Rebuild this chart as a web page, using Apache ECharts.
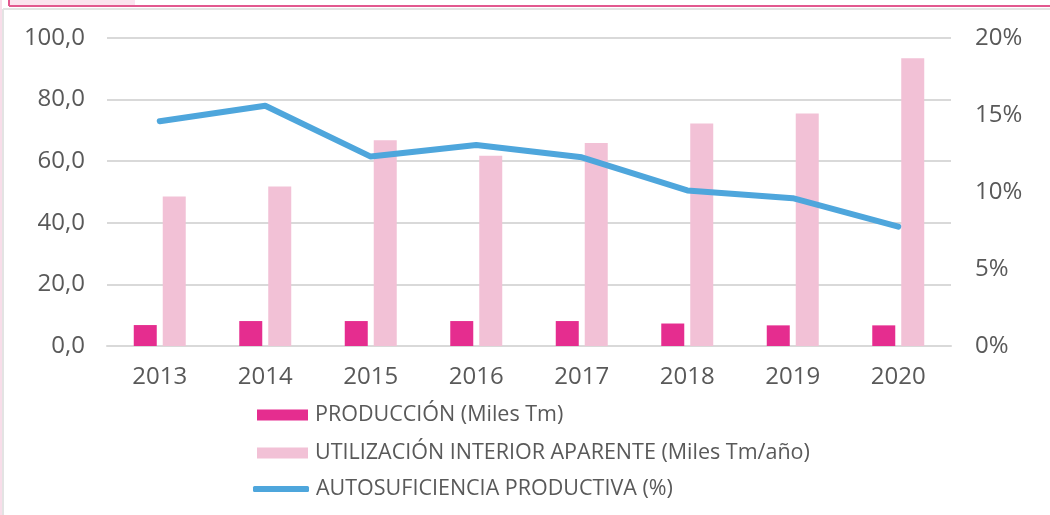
<!DOCTYPE html>
<html>
<head>
<meta charset="utf-8">
<script src="https://cdn.jsdelivr.net/npm/echarts@6/dist/echarts.min.js"></script>
<style>
  html, body { margin: 0; padding: 0; background: #fff; }
  #chartsDiv { width: 1050px; height: 515px; }
</style>
</head>
<body>
<div id="chartsDiv"></div>
<script>
const xData = ["2013", "2014", "2015", "2016", "2017", "2018", "2019", "2020"]
// producción (miles Tm)
const yProduccion = [6.8, 8.1, 8.1, 8.1, 8.1, 7.3, 6.7, 6.7]
// utilización interior aparente (miles Tm/año)
const yUtilizacion = [48.5, 51.8, 66.8, 61.8, 65.9, 72.2, 75.5, 93.4]
// autosuficiencia productiva (%)
const yAutosuficiencia = [14.6, 15.6, 12.3, 13.05, 12.25, 10.1, 9.6, 7.75]

const leftTicks = [0, 20, 40, 60, 80, 100]
const rightTicks = [0, 5, 10, 15, 20]

const nameProd = "PRODUCCIÓN (Miles Tm)"
const nameUtil = "UTILIZACIÓN INTERIOR APARENTE (Miles Tm/año)"
const nameAuto = "AUTOSUFICIENCIA PRODUCTIVA (%)"

const fontFam = "Open Sans"
const labelColor = "#595959"
const legendText = { color: labelColor, fontSize: 21.5, lineHeight: 22, fontFamily: fontFam, padding: [0, 0, 0, 2] }

let chart = echarts.init(document.getElementById("chartsDiv"))

let option = {
  backgroundColor: "#fff",
  animation: false,
  textStyle: { fontFamily: fontFam },
  grid: { left: 107, right: 99, top: 38, height: 308 },
  legend: [
    {
      // leyenda de barras
      orient: "vertical",
      left: 257,
      top: 404,
      padding: 0,
      itemWidth: 51,
      itemHeight: 11,
      itemGap: 16,
      selectedMode: false,
      textStyle: legendText,
      data: [{ name: nameProd, icon: "rect" }, { name: nameUtil, icon: "rect" }]
    },
    {
      // leyenda de la línea
      orient: "vertical",
      left: 253,
      top: 478,
      padding: 0,
      itemWidth: 56,
      itemHeight: 6,
      selectedMode: false,
      textStyle: legendText,
      data: [{ name: nameAuto, icon: "roundRect" }]
    }
  ],
  xAxis: {
    type: "category",
    data: xData,
    axisTick: { show: false },
    axisLine: { lineStyle: { color: "#D9D9D9", width: 2 } },
    axisLabel: { color: labelColor, fontSize: 24, margin: 19 }
  },
  yAxis: [
    {
      type: "value",
      min: leftTicks[0],
      max: leftTicks[leftTicks.length - 1],
      interval: 20,
      axisLine: { show: false },
      axisTick: { show: false },
      splitLine: { lineStyle: { color: "#D9D9D9", width: 2 } },
      axisLabel: {
        color: labelColor, fontSize: 24, margin: 22,
        formatter: v => v.toFixed(1).replace(".", ",")
      }
    },
    {
      type: "value",
      min: rightTicks[0],
      max: rightTicks[rightTicks.length - 1],
      interval: 5,
      position: "right",
      axisLine: { show: false },
      axisTick: { show: false },
      splitLine: { show: false },
      axisLabel: { color: labelColor, fontSize: 24, margin: 24, formatter: "{value}%" }
    }
  ],
  series: [
    {
      name: nameProd,
      type: "bar",
      barWidth: 23,
      barGap: "26%",
      itemStyle: { color: "#E52D8F" },
      data: yProduccion
    },
    {
      name: nameUtil,
      type: "bar",
      barWidth: 23,
      itemStyle: { color: "#F2C1D6" },
      data: yUtilizacion
    },
    {
      name: nameAuto,
      type: "line",
      yAxisIndex: 1,
      symbol: "none",
      lineStyle: { color: "#4EA6DC", width: 6, cap: "round", join: "round" },
      itemStyle: { color: "#4EA6DC" },
      data: yAutosuficiencia
    }
  ],
  graphic: [
    // restos del marco superior recortado
    { type: "rect", shape: { x: 10, y: 0, width: 125, height: 6 }, style: { fill: "#FBE3EE" }, silent: true },
    { type: "line", shape: { x1: 9, y1: 0, x2: 9, y2: 6 }, style: { stroke: "#E2588F", lineWidth: 2 }, silent: true },
    { type: "line", shape: { x1: 9, y1: 6, x2: 1050, y2: 6 }, style: { stroke: "#E2588F", lineWidth: 2 }, silent: true },
    { type: "line", shape: { x1: 3, y1: 9, x2: 1050, y2: 9 }, style: { stroke: "#E3E3E3", lineWidth: 2 }, silent: true },
    { type: "line", shape: { x1: 3, y1: 9, x2: 3, y2: 515 }, style: { stroke: "#E3E3E3", lineWidth: 2 }, silent: true },
    { type: "rect", shape: { x: 0, y: 0, width: 2, height: 515 }, style: { fill: "#F8DDE9" }, silent: true }
  ]
}

chart.setOption(option)
</script>
</body>
</html>
